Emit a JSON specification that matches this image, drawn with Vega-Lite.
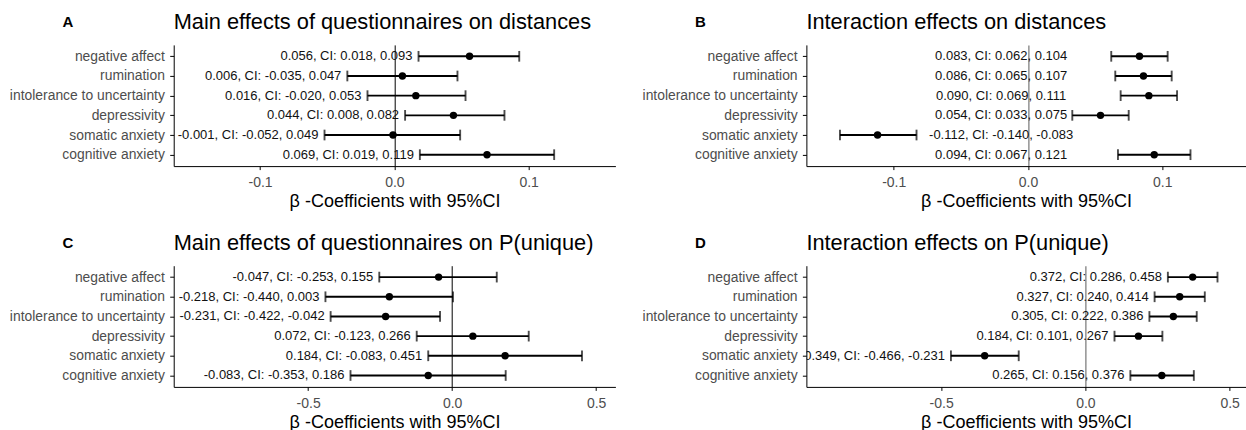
{
  "$schema": "https://vega.github.io/schema/vega-lite/v6.json",
  "background": "white",
  "padding": {"left": 8.7, "top": 11.9, "right": 0, "bottom": 0},
  "data": {"values": [
    {"panel": "A", "var": "negative affect", "est": 0.056, "lo": 0.018, "hi": 0.093, "label": "0.056, CI: 0.018, 0.093"},
    {"panel": "A", "var": "rumination", "est": 0.006, "lo": -0.035, "hi": 0.047, "label": "0.006, CI: -0.035, 0.047"},
    {"panel": "A", "var": "intolerance to uncertainty", "est": 0.016, "lo": -0.020, "hi": 0.053, "label": "0.016, CI: -0.020, 0.053"},
    {"panel": "A", "var": "depressivity", "est": 0.044, "lo": 0.008, "hi": 0.082, "label": "0.044, CI: 0.008, 0.082"},
    {"panel": "A", "var": "somatic anxiety", "est": -0.001, "lo": -0.052, "hi": 0.049, "label": "-0.001, CI: -0.052, 0.049"},
    {"panel": "A", "var": "cognitive anxiety", "est": 0.069, "lo": 0.019, "hi": 0.119, "label": "0.069, CI: 0.019, 0.119"},
    {"panel": "B", "var": "negative affect", "est": 0.083, "lo": 0.062, "hi": 0.104, "label": "0.083, CI: 0.062, 0.104"},
    {"panel": "B", "var": "rumination", "est": 0.086, "lo": 0.065, "hi": 0.107, "label": "0.086, CI: 0.065, 0.107"},
    {"panel": "B", "var": "intolerance to uncertainty", "est": 0.090, "lo": 0.069, "hi": 0.111, "label": "0.090, CI: 0.069, 0.111"},
    {"panel": "B", "var": "depressivity", "est": 0.054, "lo": 0.033, "hi": 0.075, "label": "0.054, CI: 0.033, 0.075"},
    {"panel": "B", "var": "somatic anxiety", "est": -0.112, "lo": -0.140, "hi": -0.083, "label": "-0.112, CI: -0.140, -0.083"},
    {"panel": "B", "var": "cognitive anxiety", "est": 0.094, "lo": 0.067, "hi": 0.121, "label": "0.094, CI: 0.067, 0.121"},
    {"panel": "C", "var": "negative affect", "est": -0.047, "lo": -0.253, "hi": 0.155, "label": "-0.047, CI: -0.253, 0.155"},
    {"panel": "C", "var": "rumination", "est": -0.218, "lo": -0.440, "hi": 0.003, "label": "-0.218, CI: -0.440, 0.003"},
    {"panel": "C", "var": "intolerance to uncertainty", "est": -0.231, "lo": -0.422, "hi": -0.042, "label": "-0.231, CI: -0.422, -0.042"},
    {"panel": "C", "var": "depressivity", "est": 0.072, "lo": -0.123, "hi": 0.266, "label": "0.072, CI: -0.123, 0.266"},
    {"panel": "C", "var": "somatic anxiety", "est": 0.184, "lo": -0.083, "hi": 0.451, "label": "0.184, CI: -0.083, 0.451"},
    {"panel": "C", "var": "cognitive anxiety", "est": -0.083, "lo": -0.353, "hi": 0.186, "label": "-0.083, CI: -0.353, 0.186"},
    {"panel": "D", "var": "negative affect", "est": 0.372, "lo": 0.286, "hi": 0.458, "label": "0.372, CI: 0.286, 0.458"},
    {"panel": "D", "var": "rumination", "est": 0.327, "lo": 0.240, "hi": 0.414, "label": "0.327, CI: 0.240, 0.414"},
    {"panel": "D", "var": "intolerance to uncertainty", "est": 0.305, "lo": 0.222, "hi": 0.386, "label": "0.305, CI: 0.222, 0.386"},
    {"panel": "D", "var": "depressivity", "est": 0.184, "lo": 0.101, "hi": 0.267, "label": "0.184, CI: 0.101, 0.267"},
    {"panel": "D", "var": "somatic anxiety", "est": -0.349, "lo": -0.466, "hi": -0.231, "label": "-0.349, CI: -0.466, -0.231"},
    {"panel": "D", "var": "cognitive anxiety", "est": 0.265, "lo": 0.156, "hi": 0.376, "label": "0.265, CI: 0.156, 0.376"}
  ]},
  "columns": 2,
  "bounds": "flush",
  "spacing": {"row": 98.8, "column": 190.7},
  "concat": [
    {
      "width": 441.7, "height": 121.2,
      "title": {"text": "Main effects of questionnaires on distances"},
      "transform": [{"filter": "datum.panel === 'A'"}],
      "encoding": {
        "y": {"field": "var", "type": "nominal", "scale": {"type": "point", "padding": 0.58, "domain": ["negative affect", "rumination", "intolerance to uncertainty", "depressivity", "somatic anxiety", "cognitive anxiety"]}, "axis": {"title": "A", "titleX": -111.8, "titleY": -18.3}},
        "x": {"field": "lo", "type": "quantitative", "scale": {"domain": [-0.1643, 0.1646], "nice": false, "zero": false}, "axis": {"values": [-0.1, 0, 0.1], "format": ".1f", "labelExpr": "replace(datum.label, '\u2212', '-')", "title": "β -Coefficients with 95%CI", "grid": true, "gridColor": {"condition": {"test": "datum.value === 0", "value": "black"}, "value": "transparent"}, "gridWidth": 1}}
      },
      "layer": [
        {"mark": {"type": "rule", "color": "black", "strokeWidth": 1.9}, "encoding": {"x2": {"field": "hi"}}},
        {"mark": {"type": "tick", "color": "black", "thickness": 1.9, "size": 10.7, "orient": "vertical"}, "encoding": {}},
        {"mark": {"type": "tick", "color": "black", "thickness": 1.9, "size": 10.7, "orient": "vertical"},
         "encoding": {"x": {"field": "hi", "type": "quantitative", "scale": {"domain": [-0.1643, 0.1646], "nice": false, "zero": false}, "axis": {"values": [-0.1, 0, 0.1], "format": ".1f", "labelExpr": "replace(datum.label, '\u2212', '-')", "title": "β -Coefficients with 95%CI", "grid": true, "gridColor": {"condition": {"test": "datum.value === 0", "value": "black"}, "value": "transparent"}, "gridWidth": 1}}}},
        {"mark": {"type": "circle", "color": "black", "size": 55, "opacity": 1},
         "encoding": {"x": {"field": "est", "type": "quantitative", "scale": {"domain": [-0.1643, 0.1646], "nice": false, "zero": false}, "axis": {"values": [-0.1, 0, 0.1], "format": ".1f", "labelExpr": "replace(datum.label, '\u2212', '-')", "title": "β -Coefficients with 95%CI", "grid": true, "gridColor": {"condition": {"test": "datum.value === 0", "value": "black"}, "value": "transparent"}, "gridWidth": 1}}}},
        {"mark": {"type": "text", "align": "right", "baseline": "middle", "dx": -6, "fontSize": 13, "font": "Liberation Sans", "color": "#111", "clip": true},
         "encoding": {"text": {"field": "label"}}}
      ]
    },
    {
      "width": 439.3, "height": 121.2,
      "title": {"text": "Interaction effects on distances"},
      "transform": [{"filter": "datum.panel === 'B'"}],
      "encoding": {
        "y": {"field": "var", "type": "nominal", "scale": {"type": "point", "padding": 0.58, "domain": ["negative affect", "rumination", "intolerance to uncertainty", "depressivity", "somatic anxiety", "cognitive anxiety"]}, "axis": {"title": "B", "titleX": -111.8, "titleY": -18.3}},
        "x": {"field": "lo", "type": "quantitative", "scale": {"domain": [-0.165, 0.1621], "nice": false, "zero": false}, "axis": {"values": [-0.1, 0, 0.1], "format": ".1f", "labelExpr": "replace(datum.label, '\u2212', '-')", "title": "β -Coefficients with 95%CI", "grid": true, "gridColor": {"condition": {"test": "datum.value === 0", "value": "#808080"}, "value": "transparent"}, "gridWidth": 1.3}}
      },
      "layer": [
        {"mark": {"type": "rule", "color": "black", "strokeWidth": 1.9}, "encoding": {"x2": {"field": "hi"}}},
        {"mark": {"type": "tick", "color": "black", "thickness": 1.9, "size": 10.7, "orient": "vertical"}, "encoding": {}},
        {"mark": {"type": "tick", "color": "black", "thickness": 1.9, "size": 10.7, "orient": "vertical"},
         "encoding": {"x": {"field": "hi", "type": "quantitative", "scale": {"domain": [-0.165, 0.1621], "nice": false, "zero": false}, "axis": {"values": [-0.1, 0, 0.1], "format": ".1f", "labelExpr": "replace(datum.label, '\u2212', '-')", "title": "β -Coefficients with 95%CI", "grid": true, "gridColor": {"condition": {"test": "datum.value === 0", "value": "#808080"}, "value": "transparent"}, "gridWidth": 1.3}}}},
        {"mark": {"type": "circle", "color": "black", "size": 55, "opacity": 1},
         "encoding": {"x": {"field": "est", "type": "quantitative", "scale": {"domain": [-0.165, 0.1621], "nice": false, "zero": false}, "axis": {"values": [-0.1, 0, 0.1], "format": ".1f", "labelExpr": "replace(datum.label, '\u2212', '-')", "title": "β -Coefficients with 95%CI", "grid": true, "gridColor": {"condition": {"test": "datum.value === 0", "value": "#808080"}, "value": "transparent"}, "gridWidth": 1.3}}}},
        {"mark": {"type": "text", "align": "center", "baseline": "middle", "fontSize": 13, "font": "Liberation Sans", "color": "#111", "clip": true},
         "encoding": {"x": {"datum": -0.02, "type": "quantitative", "scale": {"domain": [-0.165, 0.1621], "nice": false, "zero": false}, "axis": {"values": [-0.1, 0, 0.1], "format": ".1f", "labelExpr": "replace(datum.label, '\u2212', '-')", "title": "β -Coefficients with 95%CI", "grid": true, "gridColor": {"condition": {"test": "datum.value === 0", "value": "#808080"}, "value": "transparent"}, "gridWidth": 1.3}}, "text": {"field": "label"}}}
      ]
    },
    {
      "width": 441.7, "height": 121.2,
      "title": {"text": "Main effects of questionnaires on P(unique)"},
      "transform": [{"filter": "datum.panel === 'C'"}],
      "encoding": {
        "y": {"field": "var", "type": "nominal", "scale": {"type": "point", "padding": 0.58, "domain": ["negative affect", "rumination", "intolerance to uncertainty", "depressivity", "somatic anxiety", "cognitive anxiety"]}, "axis": {"title": "C", "titleX": -111.8, "titleY": -18.3}},
        "x": {"field": "lo", "type": "quantitative", "scale": {"domain": [-0.967, 0.567], "nice": false, "zero": false}, "axis": {"values": [-0.5, 0, 0.5], "format": ".1f", "labelExpr": "replace(datum.label, '\u2212', '-')", "title": "β -Coefficients with 95%CI", "grid": true, "gridColor": {"condition": {"test": "datum.value === 0", "value": "black"}, "value": "transparent"}, "gridWidth": 1}}
      },
      "layer": [
        {"mark": {"type": "rule", "color": "black", "strokeWidth": 1.9}, "encoding": {"x2": {"field": "hi"}}},
        {"mark": {"type": "tick", "color": "black", "thickness": 1.9, "size": 10.7, "orient": "vertical"}, "encoding": {}},
        {"mark": {"type": "tick", "color": "black", "thickness": 1.9, "size": 10.7, "orient": "vertical"},
         "encoding": {"x": {"field": "hi", "type": "quantitative", "scale": {"domain": [-0.967, 0.567], "nice": false, "zero": false}, "axis": {"values": [-0.5, 0, 0.5], "format": ".1f", "labelExpr": "replace(datum.label, '\u2212', '-')", "title": "β -Coefficients with 95%CI", "grid": true, "gridColor": {"condition": {"test": "datum.value === 0", "value": "black"}, "value": "transparent"}, "gridWidth": 1}}}},
        {"mark": {"type": "circle", "color": "black", "size": 55, "opacity": 1},
         "encoding": {"x": {"field": "est", "type": "quantitative", "scale": {"domain": [-0.967, 0.567], "nice": false, "zero": false}, "axis": {"values": [-0.5, 0, 0.5], "format": ".1f", "labelExpr": "replace(datum.label, '\u2212', '-')", "title": "β -Coefficients with 95%CI", "grid": true, "gridColor": {"condition": {"test": "datum.value === 0", "value": "black"}, "value": "transparent"}, "gridWidth": 1}}}},
        {"mark": {"type": "text", "align": "right", "baseline": "middle", "dx": -6, "fontSize": 13, "font": "Liberation Sans", "color": "#111", "clip": true},
         "encoding": {"text": {"field": "label"}}}
      ]
    },
    {
      "width": 439.3, "height": 121.2,
      "title": {"text": "Interaction effects on P(unique)"},
      "transform": [{"filter": "datum.panel === 'D'"}],
      "encoding": {
        "y": {"field": "var", "type": "nominal", "scale": {"type": "point", "padding": 0.58, "domain": ["negative affect", "rumination", "intolerance to uncertainty", "depressivity", "somatic anxiety", "cognitive anxiety"]}, "axis": {"title": "D", "titleX": -111.8, "titleY": -18.3}},
        "x": {"field": "lo", "type": "quantitative", "scale": {"domain": [-0.967, 0.5557], "nice": false, "zero": false}, "axis": {"values": [-0.5, 0, 0.5], "format": ".1f", "labelExpr": "replace(datum.label, '\u2212', '-')", "title": "β -Coefficients with 95%CI", "grid": true, "gridColor": {"condition": {"test": "datum.value === 0", "value": "#808080"}, "value": "transparent"}, "gridWidth": 1.3}}
      },
      "layer": [
        {"mark": {"type": "rule", "color": "black", "strokeWidth": 1.9}, "encoding": {"x2": {"field": "hi"}}},
        {"mark": {"type": "tick", "color": "black", "thickness": 1.9, "size": 10.7, "orient": "vertical"}, "encoding": {}},
        {"mark": {"type": "tick", "color": "black", "thickness": 1.9, "size": 10.7, "orient": "vertical"},
         "encoding": {"x": {"field": "hi", "type": "quantitative", "scale": {"domain": [-0.967, 0.5557], "nice": false, "zero": false}, "axis": {"values": [-0.5, 0, 0.5], "format": ".1f", "labelExpr": "replace(datum.label, '\u2212', '-')", "title": "β -Coefficients with 95%CI", "grid": true, "gridColor": {"condition": {"test": "datum.value === 0", "value": "#808080"}, "value": "transparent"}, "gridWidth": 1.3}}}},
        {"mark": {"type": "circle", "color": "black", "size": 55, "opacity": 1},
         "encoding": {"x": {"field": "est", "type": "quantitative", "scale": {"domain": [-0.967, 0.5557], "nice": false, "zero": false}, "axis": {"values": [-0.5, 0, 0.5], "format": ".1f", "labelExpr": "replace(datum.label, '\u2212', '-')", "title": "β -Coefficients with 95%CI", "grid": true, "gridColor": {"condition": {"test": "datum.value === 0", "value": "#808080"}, "value": "transparent"}, "gridWidth": 1.3}}}},
        {"mark": {"type": "text", "align": "right", "baseline": "middle", "dx": -6, "fontSize": 13, "font": "Liberation Sans", "color": "#111", "clip": true},
         "encoding": {"text": {"field": "label"}}}
      ]
    }
  ],
  "config": {
    "view": {"stroke": null},
    "axis": {"domainColor": "black", "domainWidth": 1, "tickColor": "black", "tickWidth": 1, "labelFont": "Liberation Sans", "titleFont": "Liberation Sans", "labelColor": "#4d4d4d", "titleColor": "black", "titleFontWeight": "normal"},
    "axisX": {"tickSize": 3.5, "labelPadding": 6.3, "labelFontSize": 14, "titleFontSize": 18, "titlePadding": 2.5},
    "axisY": {"grid": false, "tickSize": 4, "labelPadding": 5.3, "labelFontSize": 13.9, "titleAngle": 0, "titleFontSize": 15, "titleFontWeight": "bold", "titleAlign": "left", "titleBaseline": "alphabetic"},
    "title": {"anchor": "start", "frame": "group", "fontSize": 21.8, "fontWeight": "normal", "font": "Liberation Sans", "color": "black", "baseline": "alphabetic", "offset": -19.7}
  }
}
